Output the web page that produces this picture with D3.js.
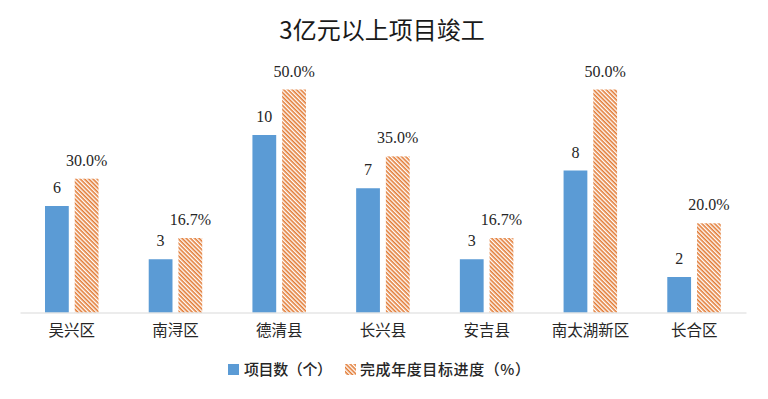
<!DOCTYPE html>
<html>
<head>
<meta charset="utf-8">
<script src="https://cdn.jsdelivr.net/npm/d3@7"></script>
<style>
  html, body { margin: 0; padding: 0; background: #fff; }
  svg { display: block; }
  text { text-spacing-trim: space-all; }
</style>
</head>
<body>
<svg id="chart" width="768" height="399"></svg>
<script>
const categories = ["吴兴区", "南浔区", "德清县", "长兴县", "安吉县", "南太湖新区", "长合区"];
const projectCounts = [6, 3, 10, 7, 3, 8, 2];
const progressPct = [0.300, 0.167, 0.500, 0.350, 0.167, 0.500, 0.200];
const seriesNames = ["项目数（个）", "完成年度目标进度（%）"];
const titleText = "3亿元以上项目竣工";

const W = 768, H = 399;
const svg = d3.select("#chart");
const baseY = 312.5;

const defs = svg.append("defs");
const pat = defs.append("pattern")
  .attr("id", "hatch")
  .attr("patternUnits", "userSpaceOnUse")
  .attr("width", 3)
  .attr("height", 3)
  .attr("patternTransform", "rotate(45)");
pat.append("rect").attr("width", 3).attr("height", 3).attr("fill", "#ffffff");
pat.append("rect").attr("width", 3).attr("height", 1.6).attr("fill", "#E27B35");

const x = d3.scaleBand().domain(categories).range([20, 746]).paddingInner(0).paddingOuter(0);
const x1 = d3.scaleBand().domain(seriesNames).range([25, 78.5]).paddingInner(0.2).paddingOuter(0);
const y1 = d3.scaleLinear().domain([0, 12]).range([baseY, baseY - 12 * 17.75]);
const y2 = d3.scaleLinear().domain([0, 0.6]).range([baseY, baseY - 0.6 * 446]);

// title
svg.append("text")
  .attr("x", 382).attr("y", 39)
  .attr("text-anchor", "middle")
  .attr("font-family", "'Noto Sans CJK SC', sans-serif")
  .attr("font-size", 24)
  .attr("fill", "#1a1a1a")
  .text(titleText);

const g = svg.append("g");

// bars - count
g.selectAll("rect.cnt").data(categories).join("rect")
  .attr("class", "cnt")
  .attr("x", (d) => x(d) + x1(seriesNames[0]))
  .attr("width", x1.bandwidth())
  .attr("y", (d, i) => y1(projectCounts[i]))
  .attr("height", (d, i) => baseY - y1(projectCounts[i]))
  .attr("fill", "#5B9BD5");

// bars - pct
g.selectAll("rect.pct").data(categories).join("rect")
  .attr("class", "pct")
  .attr("x", (d) => x(d) + x1(seriesNames[1]))
  .attr("width", x1.bandwidth())
  .attr("y", (d, i) => y2(progressPct[i]))
  .attr("height", (d, i) => baseY - y2(progressPct[i]))
  .attr("fill", "url(#hatch)");

// axis line + category labels
const xAxis = d3.axisBottom(x).tickSize(0).tickPadding(12);
const ax = svg.append("g").attr("transform", `translate(0,${baseY})`).call(xAxis);
ax.select(".domain").attr("stroke", "#D9D9D9").attr("stroke-width", 1);
ax.selectAll(".tick text")
  .attr("font-family", "'Noto Sans CJK SC', sans-serif")
  .attr("font-size", 15.5)
  .attr("fill", "#262626");

// value labels
const labelFont = "'Liberation Serif', 'Times New Roman', serif";
g.selectAll("text.cntl").data(categories).join("text")
  .attr("class", "cntl")
  .attr("x", (d) => x(d) + x1(seriesNames[0]) + x1.bandwidth() / 2)
  .attr("y", (d, i) => y1(projectCounts[i]) - 13)
  .attr("text-anchor", "middle")
  .attr("font-family", labelFont)
  .attr("font-size", 16)
  .attr("fill", "#262626")
  .text((d, i) => projectCounts[i]);

g.selectAll("text.pctl").data(categories).join("text")
  .attr("class", "pctl")
  .attr("x", (d) => x(d) + x1(seriesNames[1]) + x1.bandwidth() / 2)
  .attr("y", (d, i) => y2(progressPct[i]) - 13)
  .attr("text-anchor", "middle")
  .attr("font-family", labelFont)
  .attr("font-size", 16)
  .attr("fill", "#262626")
  .text((d, i) => (progressPct[i] * 100).toFixed(1) + "%");

// legend
const lg = svg.append("g");
const legendItems = [
  { name: seriesNames[0], fill: "#5B9BD5", sx: 228, tx: 244, len: 88 },
  { name: seriesNames[1], fill: "url(#hatch)", sx: 345, tx: 360, len: 170 }
];
legendItems.forEach((it) => {
  lg.append("rect").attr("x", it.sx).attr("y", 364).attr("width", 11).attr("height", 11).attr("fill", it.fill);
  lg.append("text")
    .attr("x", it.tx).attr("y", 375)
    .attr("font-family", "'Noto Sans CJK SC', sans-serif")
    .attr("font-size", 15)
    .attr("font-weight", 500)
    .attr("fill", "#262626")
    .attr("textLength", it.len)
    .attr("lengthAdjust", "spacing")
    .text(it.name);
});
</script>
</body>
</html>
